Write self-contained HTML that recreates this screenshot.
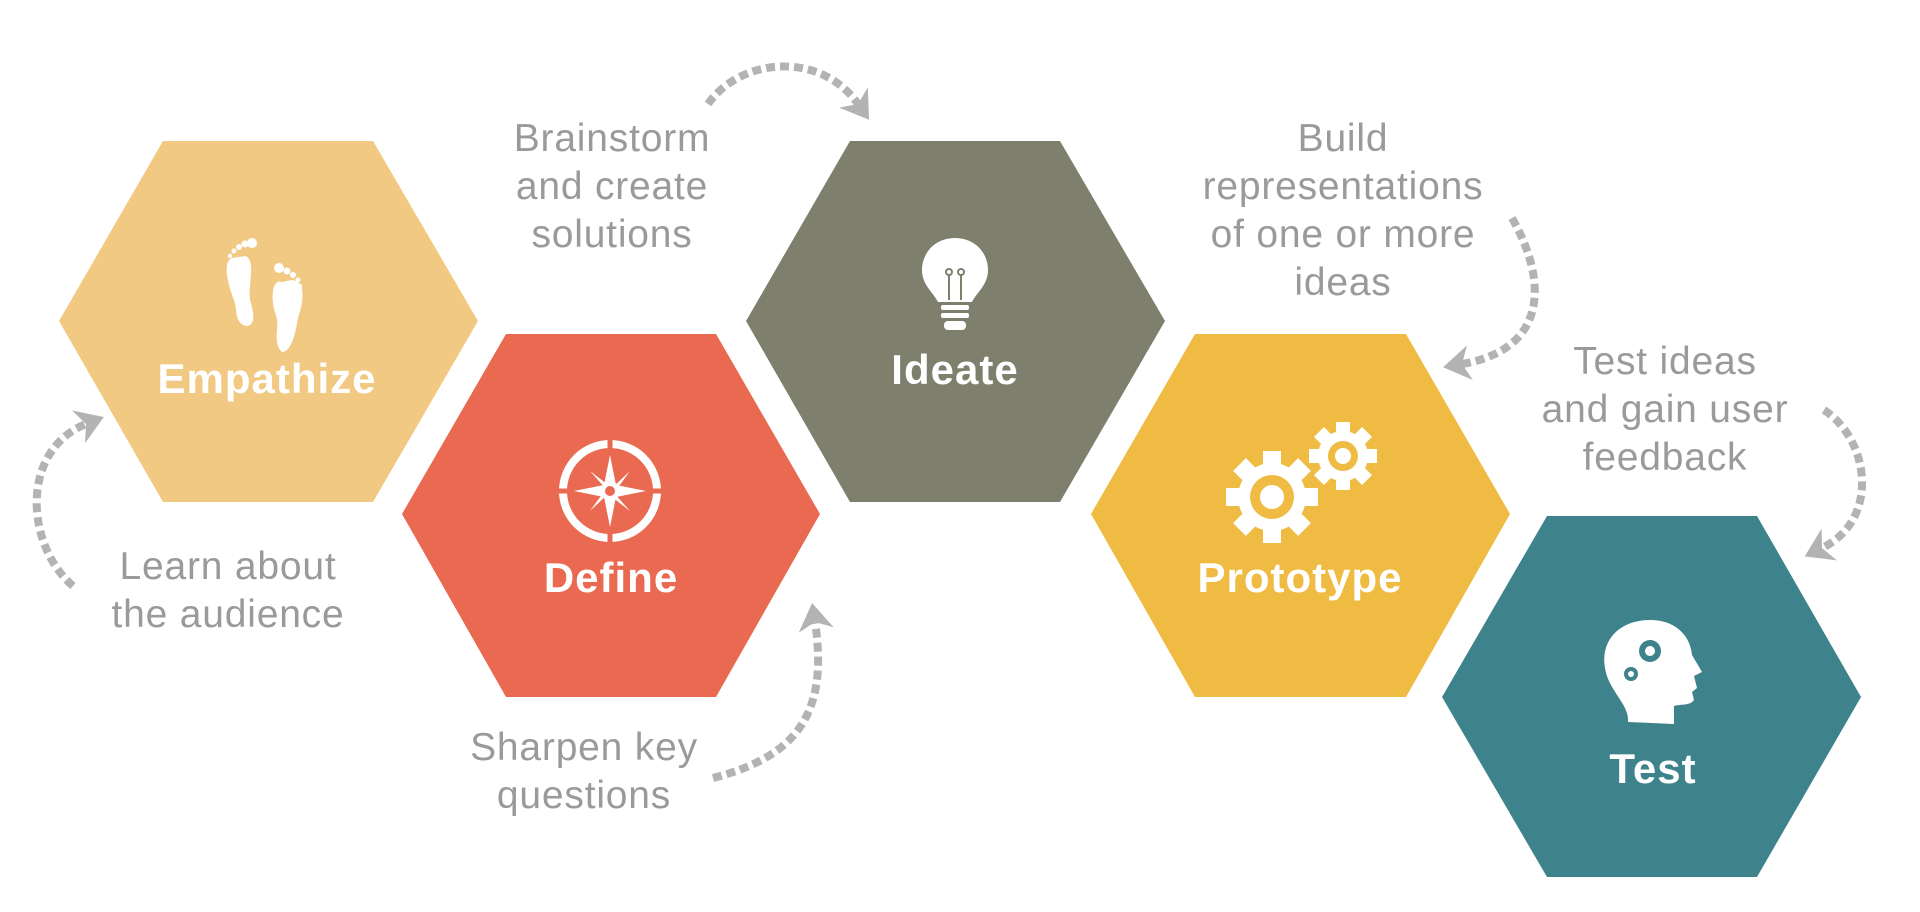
<!DOCTYPE html>
<html><head><meta charset="utf-8"><style>
html,body{margin:0;padding:0;background:#fff;}
svg{display:block;}
.lab{font-family:"Liberation Sans",sans-serif;font-size:39px;letter-spacing:0.8px;fill:#9a9a9a;text-anchor:middle;}
.hl{font-family:"Liberation Sans",sans-serif;font-size:42px;letter-spacing:1px;font-weight:bold;fill:#fff;text-anchor:middle;}
.arc{fill:none;stroke:#b3b3b3;stroke-width:8;stroke-dasharray:9 5;}
</style></head><body>
<svg width="1920" height="912" viewBox="0 0 1920 912" xmlns="http://www.w3.org/2000/svg">
<defs>
<marker id="ah" viewBox="0 0 20 20" refX="6" refY="10" markerWidth="16" markerHeight="16" markerUnits="userSpaceOnUse" orient="auto" style="overflow:visible">
<path d="M-4,-12 L30,10 L-4,32 L6,10 Z" fill="#b3b3b3"/>
</marker>
</defs>
<polygon points="59,321 163,141 373,141 478,321 373,502 163,502" fill="#F2C982"/>
<polygon points="402,514 506,334 716,334 820,514 716,697 506,697" fill="#E96951"/>
<polygon points="746,321 850,141 1060,141 1165,321 1060,502 850,502" fill="#7E7F6D"/>
<polygon points="1091,514 1195,334 1406,334 1510,514 1406,697 1195,697" fill="#F0BB42"/>
<polygon points="1442,697 1547,516 1757,516 1861,697 1757,877 1547,877" fill="#3E838C"/>

<text class="hl" x="267" y="393">Empathize</text>
<text class="hl" x="611" y="592">Define</text>
<text class="hl" x="955" y="384">Ideate</text>
<text class="hl" x="1300" y="592">Prototype</text>
<text class="hl" x="1653" y="783">Test</text>

<g fill="#fff">
<path d="M232,258 C222,262 228,285 234,300 C238,312 234,322 246,326 C256,326 254,312 250,300 C248,285 256,262 246,256 Z"/>
<circle cx="252" cy="243" r="5"/><circle cx="245" cy="244" r="3.5"/><circle cx="239" cy="247" r="3"/><circle cx="234" cy="251" r="2.5"/><circle cx="230" cy="256" r="2.2"/>
<path d="M282,282 C272,278 270,300 276,315 C280,328 272,342 282,352 C292,352 296,330 298,318 C304,300 306,282 292,280 Z"/>
<circle cx="279" cy="268" r="5"/><circle cx="287" cy="271" r="3.5"/><circle cx="293" cy="275" r="3"/><circle cx="298" cy="280" r="2.5"/><circle cx="300" cy="286" r="2.2"/>
</g>

<g fill="none" stroke="#fff" stroke-width="8"><circle cx="610" cy="491" r="47"/></g>
<g stroke="#E96951" stroke-width="5"><line x1="610" y1="440" x2="610" y2="452"/><line x1="610" y1="530" x2="610" y2="542"/><line x1="559" y1="491" x2="571" y2="491"/><line x1="649" y1="491" x2="661" y2="491"/></g>
<polygon fill="#fff" points="610,455 616,485 646,491 616,497 610,527 604,497 574,491 604,485"/>
<polygon fill="#fff" points="590,471 612,488 630,471 614,493 630,511 608,494 590,511 606,489"/>
<circle cx="610" cy="491" r="5" fill="#E96951"/>

<g fill="#fff">
<path d="M955,238 C935,238 922,253 922,270 C922,285 933,292 938,302 L972,302 C977,292 988,285 988,270 C988,253 975,238 955,238 Z"/>
<rect x="941" y="305" width="28" height="5" rx="2"/><rect x="941" y="313" width="28" height="5" rx="2"/><rect x="944" y="321" width="22" height="9" rx="4"/>
</g>
<g fill="none" stroke="#7E7F6D" stroke-width="2"><circle cx="949" cy="272" r="3"/><circle cx="961" cy="272" r="3"/><line x1="949" y1="275" x2="949" y2="300"/><line x1="961" y1="275" x2="961" y2="300"/></g>

<g fill="#fff">
<circle cx="1272" cy="497" r="34"/>
<rect x="1263" y="451" width="18" height="92"/>
<rect x="1263" y="451" width="18" height="92" transform="rotate(45 1272 497)"/>
<rect x="1263" y="451" width="18" height="92" transform="rotate(90 1272 497)"/>
<rect x="1263" y="451" width="18" height="92" transform="rotate(135 1272 497)"/>
<circle cx="1343" cy="456" r="25"/>
<rect x="1336" y="422" width="14" height="68"/>
<rect x="1336" y="422" width="14" height="68" transform="rotate(45 1343 456)"/>
<rect x="1336" y="422" width="14" height="68" transform="rotate(90 1343 456)"/>
<rect x="1336" y="422" width="14" height="68" transform="rotate(135 1343 456)"/>
</g>
<circle cx="1272" cy="497" r="22" fill="#F0BB42"/><circle cx="1272" cy="497" r="12" fill="#fff"/>
<circle cx="1343" cy="456" r="15" fill="#F0BB42"/><circle cx="1343" cy="456" r="8" fill="#fff"/>

<path fill="#fff" d="M1628,722 C1630,705 1608,690 1605,668 C1600,640 1620,620 1650,620 C1675,620 1690,635 1692,655 L1702,672 L1694,676 L1697,688 L1692,692 L1694,700 C1690,706 1680,704 1674,706 L1674,724 Z"/>
<circle cx="1650" cy="651" r="11" fill="#3E838C"/><circle cx="1650" cy="651" r="5" fill="#fff"/>
<circle cx="1631" cy="674" r="7" fill="#3E838C"/><circle cx="1631" cy="674" r="3" fill="#fff"/>

<text class="lab" x="612" y="151">Brainstorm</text>
<text class="lab" x="612" y="199">and create</text>
<text class="lab" x="612" y="247">solutions</text>
<text class="lab" x="228" y="579">Learn about</text>
<text class="lab" x="228" y="627">the audience</text>
<text class="lab" x="584" y="760">Sharpen key</text>
<text class="lab" x="584" y="808">questions</text>
<text class="lab" x="1343" y="151">Build</text>
<text class="lab" x="1343" y="199">representations</text>
<text class="lab" x="1343" y="247">of one or more</text>
<text class="lab" x="1343" y="295">ideas</text>
<text class="lab" x="1665" y="374">Test ideas</text>
<text class="lab" x="1665" y="422">and gain user</text>
<text class="lab" x="1665" y="470">feedback</text>

<path class="arc" d="M708,104 C740,58 820,50 858,104" marker-end="url(#ah)"/>
<path class="arc" d="M73,586 C25,545 20,450 86,424" marker-end="url(#ah)"/>
<path class="arc" d="M713,778 C790,758 830,720 815,622" marker-end="url(#ah)"/>
<path class="arc" d="M1512,218 C1550,285 1545,350 1462,364" marker-end="url(#ah)"/>
<path class="arc" d="M1824,410 C1870,440 1880,520 1822,548" marker-end="url(#ah)"/>
</svg>
</body></html>
